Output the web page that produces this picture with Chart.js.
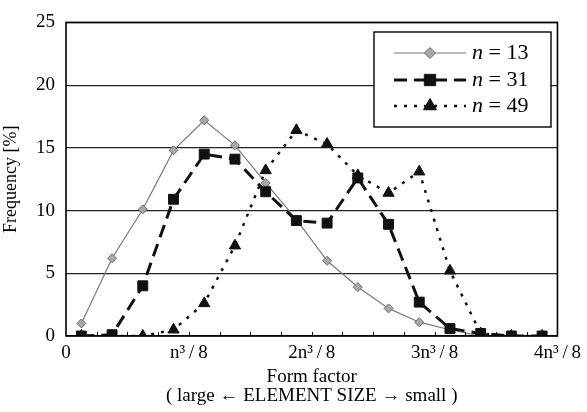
<!DOCTYPE html>
<html><head><meta charset="utf-8">
<script src="https://cdn.jsdelivr.net/npm/chart.js@4/dist/chart.umd.min.js"></script>
<style>html,body{margin:0;padding:0;background:#fff}#wrap{width:587px;height:412px}</style>
</head><body><div id="wrap"><canvas id="c" width="587" height="412"></canvas></div>
<script>
// ---- data ----
const binCenters = [0.125,0.375,0.625,0.875,1.125,1.375,1.625,1.875,2.125,2.375,2.625,2.875,3.125,3.375,3.625,3.875];
const seriesNames = ['13','31','49'];
const n13 = [1.0,6.2,10.1,14.8,17.2,15.2,12.2,9.3,6.0,3.9,2.2,1.1,0.5,0,0,0];
const n31 = [0,0.1,4.0,10.9,14.5,14.1,11.5,9.2,9.0,12.6,8.9,2.7,0.6,0.2,0,0];
const n49 = [0,0,0,0.5,2.6,7.2,13.2,16.4,15.3,12.8,11.4,13.1,5.2,0.2,0,0];
const xTickLabels = ['0','n³\u2009/\u20098','2n³\u2009/\u20098','3n³\u2009/\u20098','4n³\u2009/\u20098'];
const yTickValues = [0,5,10,15,20,25];
const xTitle = ['Form factor','( large ← ELEMENT SIZE → small )'];
const yTitle = 'Frequency [%]';

const FONT = 'Liberation Serif';
const toPts = arr => binCenters.map((x,i)=>({x:x, y:arr[i]}));

const innerTicks = {
  id:'innerTicks',
  afterDatasetsDraw(chart){
    const {ctx, chartArea:a, scales:{x}} = chart;
    ctx.save();
    ctx.strokeStyle='#000'; ctx.lineWidth=1;
    for(let v=0.25; v<4; v+=0.25){
      const px=Math.round(x.getPixelForValue(v))+0.5;
      ctx.beginPath(); ctx.moveTo(px,a.bottom); ctx.lineTo(px,a.bottom-4); ctx.stroke();
    }
    ctx.lineWidth=1.6;
    ctx.strokeRect(a.left,a.top,a.right-a.left,a.bottom-a.top);
    ctx.restore();
  }
};

const customLegend = {
  id:'customLegend',
  afterDatasetsDraw(chart){
    const ctx=chart.ctx;
    const bx=374, by=32, bw=177, bh=95;
    ctx.save();
    ctx.fillStyle='#fff'; ctx.fillRect(bx,by,bw,bh);
    ctx.strokeStyle='#000'; ctx.lineWidth=1.4; ctx.strokeRect(bx,by,bw,bh);
    const rows=[53,80,106];
    chart.data.datasets.forEach((ds,i)=>{
      const y=rows[i];
      ctx.save();
      ctx.strokeStyle=ds.borderColor; ctx.lineWidth=ds.borderWidth;
      ctx.setLineDash(ds.borderDash||[]);
      ctx.beginPath(); ctx.moveTo(394,y); ctx.lineTo(466,y); ctx.stroke();
      ctx.restore();
      ctx.save();
      ctx.fillStyle=ds.pointBackgroundColor; ctx.strokeStyle=ds.pointBorderColor; ctx.lineWidth=ds.pointBorderWidth||1;
      Chart.helpers.drawPoint(ctx,{pointStyle:ds.pointStyle, radius:ds.pointRadius+1, borderWidth:ds.pointBorderWidth||1},430,y);
      ctx.restore();
      ctx.fillStyle='#000'; ctx.textBaseline='middle';
      ctx.font='italic 22px "'+FONT+'"';
      ctx.fillText('n',472,y);
      const w=ctx.measureText('n').width;
      ctx.font='22px "'+FONT+'"';
      ctx.fillText(' = '+seriesNames[i],472+w,y);
    });
    ctx.restore();
  }
};

new Chart(document.getElementById('c'),{
  type:'line',
  data:{datasets:[
    {label:'n = '+seriesNames[0], data:toPts(n13), borderColor:'#7a7a7a', borderWidth:1.2,
     pointStyle:'rectRot', pointRadius:4.5, pointBackgroundColor:'#a8a8a8', pointBorderColor:'#6a6a6a', pointBorderWidth:1, order:3},
    {label:'n = '+seriesNames[1], data:toPts(n31), borderColor:'#111', borderWidth:3, borderDash:[13,7],
     pointStyle:'rect', pointRadius:7, pointBackgroundColor:'#111', pointBorderColor:'#111', pointBorderWidth:1, order:1},
    {label:'n = '+seriesNames[2], data:toPts(n49), borderColor:'#111', borderWidth:2.5, borderDash:[3,7],
     pointStyle:'triangle', pointRadius:6.5, pointBackgroundColor:'#111', pointBorderColor:'#111', pointBorderWidth:1, order:2}
  ]},
  options:{
    responsive:false, animation:false,
    layout:{padding:{top:22,right:25,left:0,bottom:0}},
    plugins:{legend:{display:false}, tooltip:{enabled:false}},
    elements:{line:{tension:0}},
    scales:{
      x:{type:'linear', min:0, max:4,
        afterFit(s){s.height=76;},
        afterBuildTicks(s){s.ticks=xTickLabels.map((_,i)=>({value:i}));},
        grid:{display:false, drawTicks:false}, border:{display:false},
        ticks:{callback:(v)=>xTickLabels[v]??'', font:{family:FONT,size:19}, color:'#000', padding:6, maxRotation:0, autoSkip:false},
        title:{display:true, text:xTitle, font:{family:FONT,size:19, lineHeight:1.0}, color:'#000', padding:{top:2,bottom:6}}
      },
      y:{min:0, max:25,
        afterFit(s){s.width=66;},
        afterBuildTicks(s){s.ticks=yTickValues.map(v=>({value:v}));},
        grid:{color:'#222', lineWidth:1.2, drawTicks:false}, border:{display:false},
        ticks:{font:{family:FONT,size:19}, color:'#000', padding:11},
        title:{display:true, text:yTitle, font:{family:FONT,size:18}, color:'#000', padding:{top:0,bottom:2}}
      }
    }
  },
  plugins:[innerTicks, customLegend]
});
</script></body></html>
